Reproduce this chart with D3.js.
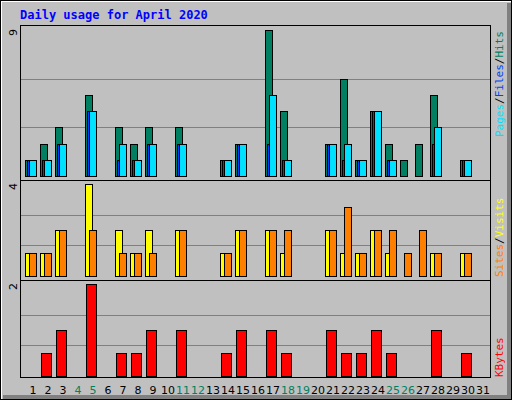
<!DOCTYPE html>
<html><head><meta charset="utf-8">
<script src="https://cdn.jsdelivr.net/npm/d3@7"></script>
<style>body{margin:0;background:#fff}</style></head>
<body><svg id="c" width="512" height="400"></svg>
<script>
const days = d3.range(1, 32);
const weekendDays = [4,5,11,12,18,19,25,26];
const hits   = [1,2,3,0,5,0,3,2,3,0,3,0,0,1,2,0,9,4,0,0,2,6,1,4,2,1,2,5,0,1,0];
const files  = [1,1,2,0,4,0,2,1,2,0,2,0,0,1,2,0,5,1,0,0,2,2,1,4,1,0,0,3,0,1,0];
const pages  = [1,1,2,0,4,0,1,1,2,0,2,0,0,1,2,0,2,1,0,0,2,1,1,4,1,0,0,2,0,1,0];
const visits = [1,1,2,0,4,0,2,1,2,0,2,0,0,1,2,0,2,1,0,0,2,1,1,2,1,0,0,1,0,1,0];
const sites  = [1,1,2,0,2,0,1,1,1,0,2,0,0,1,2,0,2,2,0,0,2,3,1,2,2,1,2,1,0,1,0];
const kbytes = [0,0.5,1,0,2,0,0.5,0.5,1,0,1,0,0,0.5,1,0,1,0.5,0,0,1,0.5,0.5,1,0.5,0,0,1,0,0.5,0];
const maxLabels = ["9","4","2"];

const svg = d3.select("#c");
svg.append("rect").attr("width",512).attr("height",400).attr("fill","#c0c0c0");
svg.append("path").attr("d","M1,399V1H511").attr("fill","none").attr("stroke","#fff").attr("stroke-width",2);
svg.append("path").attr("d","M509,3V397H3").attr("fill","none").attr("stroke","#808080").attr("stroke-width",4);
svg.append("rect").attr("x",0.5).attr("y",0.5).attr("width",511).attr("height",399).attr("fill","none").attr("stroke","#000");
svg.append("text").attr("x",20).attr("y",19).text("Daily usage for April 2020")
  .attr("font-family","DejaVu Sans Mono").attr("font-weight","bold").attr("font-size",12).attr("fill","#0000ff");

const x = d3.scaleLinear().domain([1,31]).range([33,483]);
const panels = [
  {top:25, bot:180, base:176, max:9},
  {top:180, bot:280, base:276, max:4},
  {top:280, bot:378, base:376, max:2}];
panels.forEach(p=>{ p.y = d3.scaleLinear().domain([0,p.max]).range([p.base, p.top + (p.top===25?5:4)]); });

// grid
panels.forEach(p=>{
  [1,2].forEach(k=>{
    const gy = Math.round(p.y(p.max*k/3))+0.5;
    svg.append("line").attr("x1",21).attr("x2",490).attr("y1",gy).attr("y2",gy).attr("stroke","#808080");
  });
});
// frame of plot area
svg.append("rect").attr("x",20.5).attr("y",25.5).attr("width",470).attr("height",352).attr("fill","none").attr("stroke","#000");
[180,280].forEach(v=>svg.append("line").attr("x1",21).attr("x2",491).attr("y1",v+0.5).attr("y2",v+0.5).attr("stroke","#000"));

function bars(data, p, dx, w, color){
  svg.append("g").selectAll("rect").data(days.filter((d,i)=>data[i]>0)).join("rect")
    .attr("x",d=>Math.round(x(d))+dx+0.5).attr("width",w)
    .attr("y",d=>Math.round(p.y(data[d-1]))+0.5)
    .attr("height",d=>Math.round(p.base)-Math.round(p.y(data[d-1])))
    .attr("fill",color).attr("stroke","#000");
}
bars(hits, panels[0], -8, 7, "#008060");
bars(pages, panels[0], -6, 7, "#0040ff");
bars(files, panels[0], -4, 7, "#00e0ff");
bars(visits, panels[1], -8, 7, "#ffff00");
bars(sites, panels[1], -4, 7, "#ff8000");
bars(kbytes, panels[2], -7, 10, "#ff0000");

// day labels
svg.append("g").selectAll("text").data(days).join("text")
  .attr("x",d=>x(d)).attr("y",394).attr("text-anchor","middle")
  .attr("font-family","DejaVu Sans").attr("font-size",11)
  .attr("fill",d=>weekendDays.includes(d)?"#008060":"#000").text(d=>d);

// max labels
panels.forEach((p,i)=>{
  svg.append("text").attr("transform",`translate(17,${p.top+(i===0?4:3)}) rotate(-90)`)
    .attr("text-anchor","end").attr("font-family","DejaVu Sans").attr("font-size",11).text(maxLabels[i]);
});

// right labels
function rlabel(parts, yEnd){
  const t = svg.append("text").attr("transform",`translate(503,${yEnd}) rotate(-90)`)
    .attr("font-family","DejaVu Sans Mono").attr("font-size",11);
  parts.forEach(([s,c])=>t.append("tspan").attr("fill",c).text(s));
}
rlabel([["Pages","#00e0ff"],["/","#000"],["Files","#0040ff"],["/","#000"],["Hits","#008060"]], 137);
rlabel([["Sites","#ff8000"],["/","#000"],["Visits","#ffff00"]], 277);
rlabel([["KBytes","#ff0000"]], 377);
</script></body></html>
